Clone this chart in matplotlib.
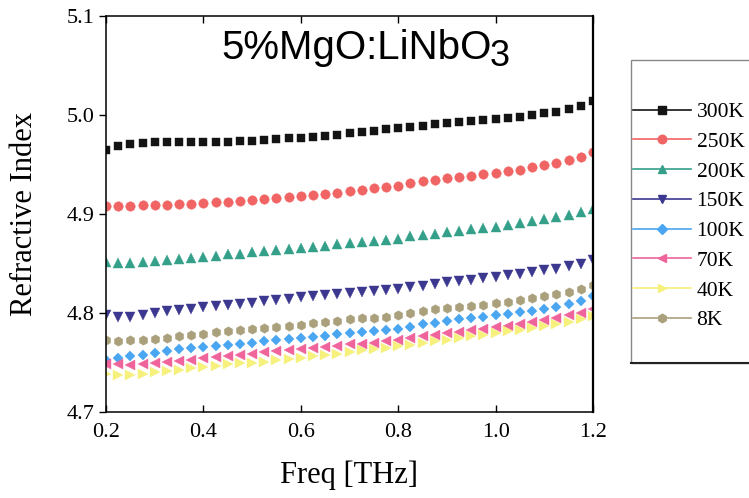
import matplotlib
matplotlib.use('Agg')
import matplotlib.pyplot as plt
from matplotlib.lines import Line2D
from matplotlib.patches import Rectangle

plt.rcParams['font.family'] = 'Liberation Serif'

# THz frequency grid of the measurement
freq = [0.200, 0.225, 0.250, 0.275, 0.300, 0.325, 0.350, 0.375, 0.400, 0.425,
        0.450, 0.475, 0.500, 0.525, 0.550, 0.575, 0.600, 0.625, 0.650, 0.675,
        0.700, 0.725, 0.750, 0.775, 0.800, 0.825, 0.850, 0.875, 0.900, 0.925,
        0.950, 0.975, 1.000, 1.025, 1.050, 1.075, 1.100, 1.125, 1.150, 1.175,
        1.200]

# refractive index at each temperature
n_300K = [4.965, 4.969, 4.971, 4.972, 4.973, 4.973, 4.973, 4.973, 4.973, 4.973,
          4.973, 4.974, 4.974, 4.975, 4.976, 4.977, 4.977, 4.978, 4.979, 4.980,
          4.982, 4.983, 4.984, 4.986, 4.987, 4.988, 4.989, 4.991, 4.992, 4.993,
          4.994, 4.995, 4.996, 4.997, 4.998, 5.000, 5.002, 5.003, 5.006, 5.009,
          5.014]
n_250K = [4.908, 4.908, 4.908, 4.909, 4.909, 4.909, 4.910, 4.910, 4.911, 4.912,
          4.912, 4.913, 4.914, 4.915, 4.916, 4.917, 4.918, 4.919, 4.920, 4.921,
          4.923, 4.924, 4.926, 4.927, 4.928, 4.931, 4.933, 4.934, 4.936, 4.937,
          4.938, 4.940, 4.941, 4.943, 4.944, 4.947, 4.949, 4.952, 4.955, 4.958,
          4.963]
n_200K = [4.852, 4.851, 4.851, 4.852, 4.853, 4.854, 4.855, 4.856, 4.857, 4.858,
          4.860, 4.860, 4.862, 4.863, 4.864, 4.865, 4.866, 4.867, 4.868, 4.870,
          4.871, 4.872, 4.873, 4.874, 4.875, 4.878, 4.879, 4.880, 4.882, 4.883,
          4.885, 4.886, 4.887, 4.889, 4.891, 4.893, 4.895, 4.897, 4.899, 4.902,
          4.905]
n_150K = [4.798, 4.796, 4.796, 4.798, 4.800, 4.802, 4.803, 4.804, 4.806, 4.807,
          4.808, 4.809, 4.810, 4.812, 4.813, 4.814, 4.816, 4.817, 4.818, 4.819,
          4.820, 4.821, 4.822, 4.823, 4.824, 4.826, 4.827, 4.829, 4.831, 4.832,
          4.833, 4.835, 4.836, 4.838, 4.839, 4.841, 4.843, 4.844, 4.847, 4.850,
          4.854]
n_100K = [4.753, 4.755, 4.757, 4.758, 4.760, 4.762, 4.764, 4.765, 4.766, 4.767,
          4.768, 4.769, 4.770, 4.772, 4.773, 4.774, 4.775, 4.776, 4.777, 4.779,
          4.780, 4.781, 4.782, 4.783, 4.784, 4.786, 4.789, 4.790, 4.792, 4.794,
          4.795, 4.796, 4.798, 4.799, 4.801, 4.802, 4.804, 4.806, 4.809, 4.812,
          4.817]
n_70K = [4.748, 4.748, 4.747, 4.748, 4.749, 4.751, 4.752, 4.753, 4.755, 4.756,
         4.757, 4.758, 4.759, 4.761, 4.762, 4.763, 4.764, 4.765, 4.766, 4.767,
         4.769, 4.769, 4.770, 4.772, 4.773, 4.775, 4.777, 4.778, 4.780, 4.781,
         4.783, 4.784, 4.786, 4.787, 4.789, 4.791, 4.793, 4.795, 4.798, 4.800,
         4.804]
n_40K = [4.738, 4.737, 4.737, 4.738, 4.740, 4.741, 4.742, 4.744, 4.745, 4.746,
         4.748, 4.749, 4.750, 4.751, 4.753, 4.754, 4.755, 4.757, 4.758, 4.759,
         4.761, 4.763, 4.764, 4.765, 4.767, 4.768, 4.770, 4.772, 4.773, 4.775,
         4.777, 4.778, 4.780, 4.782, 4.783, 4.785, 4.787, 4.789, 4.791, 4.794,
         4.797]
n_8K = [4.773, 4.772, 4.773, 4.773, 4.774, 4.775, 4.777, 4.778, 4.779, 4.781,
        4.782, 4.783, 4.784, 4.785, 4.786, 4.787, 4.788, 4.790, 4.791, 4.792,
        4.794, 4.795, 4.795, 4.796, 4.798, 4.800, 4.802, 4.804, 4.805, 4.806,
        4.807, 4.808, 4.810, 4.811, 4.813, 4.815, 4.817, 4.819, 4.821, 4.824,
        4.828]

labels = ['300K', '250K', '200K', '150K', '100K', '70K', '40K', '8K']
series = [n_300K, n_250K, n_200K, n_150K, n_100K, n_70K, n_40K, n_8K]
colors = ['#141414', '#f06464', '#35a08a', '#3c3890', '#4aa6f0',
          '#f0649c', '#f6f07c', '#aaa07c']
markers = ['s', 'o', '^', 'v', 'D', '<', '>', 'h']
sizes = [6.0, 6.8, 7.0, 7.0, 5.3, 7.0, 7.0, 6.8]

fig = plt.figure(figsize=(7.49, 4.98), dpi=100)
ax = fig.add_axes([106 / 749, 1 - 412 / 498, 487 / 749, 396 / 498])

for vals, c, m, s in zip(series, colors, markers, sizes):
    ax.plot(freq, vals, linestyle='none', marker=m, markersize=s,
            color=c, markeredgecolor=c, markeredgewidth=0.3)

ax.set_xlim(0.2, 1.2)
ax.set_ylim(4.7, 5.1)
ax.set_xticks([0.2, 0.4, 0.6, 0.8, 1.0, 1.2])
ax.set_yticks([4.7, 4.8, 4.9, 5.0, 5.1])
ax.xaxis.set_major_formatter(plt.FuncFormatter(lambda v, p: f'{v:.1f}'))
ax.yaxis.set_major_formatter(plt.FuncFormatter(lambda v, p: f'{v:.1f}'))
ax.tick_params(axis='x', direction='in', top=True, length=5, width=1.0,
               labelsize=16, pad=8)
ax.tick_params(axis='y', direction='out', length=5, width=1.0,
               labelsize=16, pad=3)
for sp in ax.spines.values():
    sp.set_linewidth(1.1)
ax.spines['right'].set_linewidth(1.6)

ax.set_xlabel('Freq [THz]', fontsize=22, labelpad=13)
ax.set_ylabel('Refractive Index', fontsize=22, labelpad=20)

# sample name with subscript
t = ax.text(0.237, 0.918, '5%MgO:LiNbO', transform=ax.transAxes,
            fontsize=29, family='Liberation Sans', ha='left', va='center')
ax.annotate('3', xy=(1.0, 0.0), xycoords=t, xytext=(-1.5, -5),
            textcoords='offset points', fontsize=26,
            family='Liberation Sans', ha='left', va='bottom')

# legend: Origin-style box on the right
box = Rectangle((631 / 749, 1 - 363 / 498), 0.3, 303 / 498,
                transform=fig.transFigure, facecolor='white',
                edgecolor='#888888', linewidth=1.0, clip_on=False)
fig.patches.append(box)
shadow = Line2D([631 / 749, 1.0], [1 - 363 / 498, 1 - 363 / 498],
                transform=fig.transFigure, color='#222222', linewidth=1.5)
fig.lines.append(shadow)

handles = [Line2D([], [], color=c, marker=m, markersize=s * 0.9, lw=1.2,
                  markeredgecolor=c)
           for c, m, s in zip(colors, markers, sizes)]
fig.legend(handles, labels, loc='upper left',
           bbox_to_anchor=(633 / 749, 1 - 102 / 498), frameon=False,
           fontsize=15.5, handlelength=2.7, handletextpad=0.25,
           labelspacing=0.45, borderpad=0.0, borderaxespad=0.0,
           numpoints=1)

fig.savefig('out.png', dpi=100)
